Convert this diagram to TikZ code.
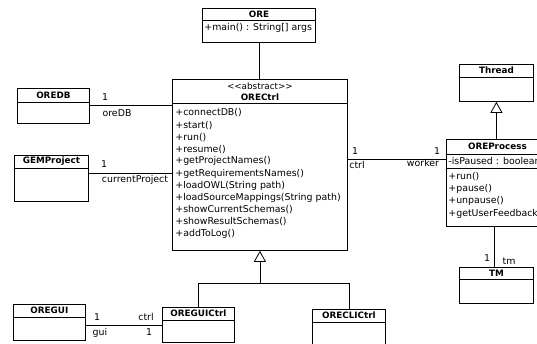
\documentclass[tikz,border=0pt]{standalone}
\usepackage{fontspec}
\setmainfont{DejaVu Sans}
\usetikzlibrary{arrows.meta}

% horizontal compartment rule inside a class box, #2 pt below its top edge
\newcommand\classrule[2]{\draw[rule] ([yshift=-#2pt]#1.north west) -- ([yshift=-#2pt]#1.north east);}

\begin{document}
\begin{tikzpicture}[x=1pt, y=-1pt, line width=0.8pt,
  cls/.style={draw, inner sep=0pt, anchor=north west, fill=white},
  rule/.style={line width=0.8pt},
  title/.style={inner sep=0pt, font=\fontsize{8.8}{10}\selectfont\bfseries},
  stereo/.style={inner sep=0pt, font=\fontsize{8.8}{10}\selectfont},
  member/.style={inner sep=0pt, anchor=west, font=\fontsize{9.4}{11}\selectfont},
  mult/.style={inner sep=0pt, font=\fontsize{9.4}{11}\selectfont},
  inherit/.style={-{Triangle[open, length=11pt, width=12pt]}},
]
\clip (0,0) rectangle (537,343);
\fill[white] (0,0) rectangle (537,343);

% ---------- class boxes ----------
\node[cls, minimum width=113pt, minimum height=34pt] (ore) at (202,8) {};
\classrule{ore}{12}
\node[title] (oreT) at ([yshift=-6.5pt]ore.north) {ORE};
\node[member] (oreM) at (204,28) {+main() : String[] args};

\node[cls, minimum width=72pt, minimum height=35pt] (oredb) at (17,88) {};
\classrule{oredb}{14}
\node[title] (oredbT) at ([yshift=-7pt]oredb.north) {OREDB};

\node[cls, minimum width=74pt, minimum height=46pt] (gem) at (14,155) {};
\classrule{gem}{13}
\node[title] (gemT) at ([yshift=-6.5pt]gem.north) {GEMProject};

\node[cls, minimum width=175pt, minimum height=171pt] (orectrl) at (172,79) {};
\classrule{orectrl}{24}
\node[stereo] (ctrlS) at ([yshift=-7pt]orectrl.north) {<{}<abstract>{}>};
\node[title] (ctrlT) at ([yshift=-18pt]orectrl.north) {ORECtrl};
\foreach \t [count=\i from 0] in {+connectDB(), +start(), +run(), +resume(),
  +getProjectNames(), +getRequirementsNames(), +loadOWL(String path),
  +loadSourceMappings(String path), +showCurrentSchemas(),
  +showResultSchemas(), +addToLog()}
  \node[member] (ctrlM\i) at (175,{113+12.1*\i}) {\t};

\node[cls, minimum width=74pt, minimum height=37pt] (thread) at (459,64) {};
\classrule{thread}{13}
\node[title] (threadT) at ([yshift=-6.5pt]thread.north) {Thread};

\node[cls, minimum width=102pt, minimum height=87pt] (proc) at (446,139) {};
\classrule{proc}{15}
\classrule{proc}{29}
\node[title] (procT) at ([yshift=-7.5pt]proc.north) {OREProcess};
\node[member] (procA) at (448,161) {-isPaused : boolean};
\foreach \t [count=\i from 0] in {+run(), +pause(), +unpause(), +getUserFeedback()}
  \node[member] (procM\i) at (448,{177+12.2*\i}) {\t};

\node[cls, minimum width=74pt, minimum height=36pt] (tm) at (459,267) {};
\classrule{tm}{12}
\node[title] (tmT) at ([yshift=-6pt]tm.north) {TM};

\node[cls, minimum width=72pt, minimum height=36pt] (gui) at (13,304) {};
\classrule{gui}{13}
\node[title] (guiT) at ([yshift=-6.5pt]gui.north) {OREGUI};

\node[cls, minimum width=72pt, minimum height=35pt] (guictrl) at (162,307) {};
\classrule{guictrl}{13}
\node[title] (guictrlT) at ([yshift=-6.5pt]guictrl.north) {OREGUICtrl};

\node[cls, minimum width=73pt, minimum height=50pt] (clictrl) at (312,309) {};
\classrule{clictrl}{13}
\node[title] (clictrlT) at ([yshift=-6.5pt]clictrl.north) {ORECLICtrl};

% ---------- associations ----------
\draw (ore.south) -- (ore.south |- orectrl.north);

\coordinate (dbport) at ([yshift=0.5pt]oredb.east);
\draw (dbport) -- (dbport -| orectrl.west);
\node[mult] (dbOne) at (105,97) {1};
\node[mult] (dbRole) at (117,113) {oreDB};

\coordinate (gemport) at ([yshift=5pt]gem.east);
\draw (gemport) -- (gemport -| orectrl.west);
\node[mult] (gemOne) at (104,164) {1};
\node[mult] (gemRole) at (135,180) {currentProject};

\coordinate (wkport) at ([yshift=23.5pt]proc.west);
\draw (wkport -| orectrl.east) -- (wkport);
\node[mult] (ctrlOne) at (355,151) {1};
\node[mult] (ctrlRole) at (357,165) {ctrl};
\node[mult] (wkOne) at (437,151) {1};
\node[mult] (wkRole) at (423,163) {worker};

\coordinate (tmport) at ([xshift=-2pt]tm.north);
\draw (tmport) -- (tmport |- proc.south);
\node[mult] (tmOne) at (487,258) {1};
\node[mult] (tmRole) at (509,261) {tm};

\coordinate (guiport) at ([yshift=-3pt]gui.east);
\draw (guiport) -- (guiport -| guictrl.west);
\node[mult] (guiOne) at (97,317) {1};
\node[mult] (guiRole) at (100,333) {gui};
\node[mult] (gcRole) at (146,317) {ctrl};
\node[mult] (gcOne) at (149,332) {1};

% ---------- generalizations ----------
\draw[inherit] (thread.south |- proc.north) -- (thread.south);

\coordinate (join) at ([yshift=-33pt]orectrl.south);
\draw[inherit] (join) -- (orectrl.south);
\draw (guictrl.north) |- (join) -| (clictrl.north);
\end{tikzpicture}
\end{document}
